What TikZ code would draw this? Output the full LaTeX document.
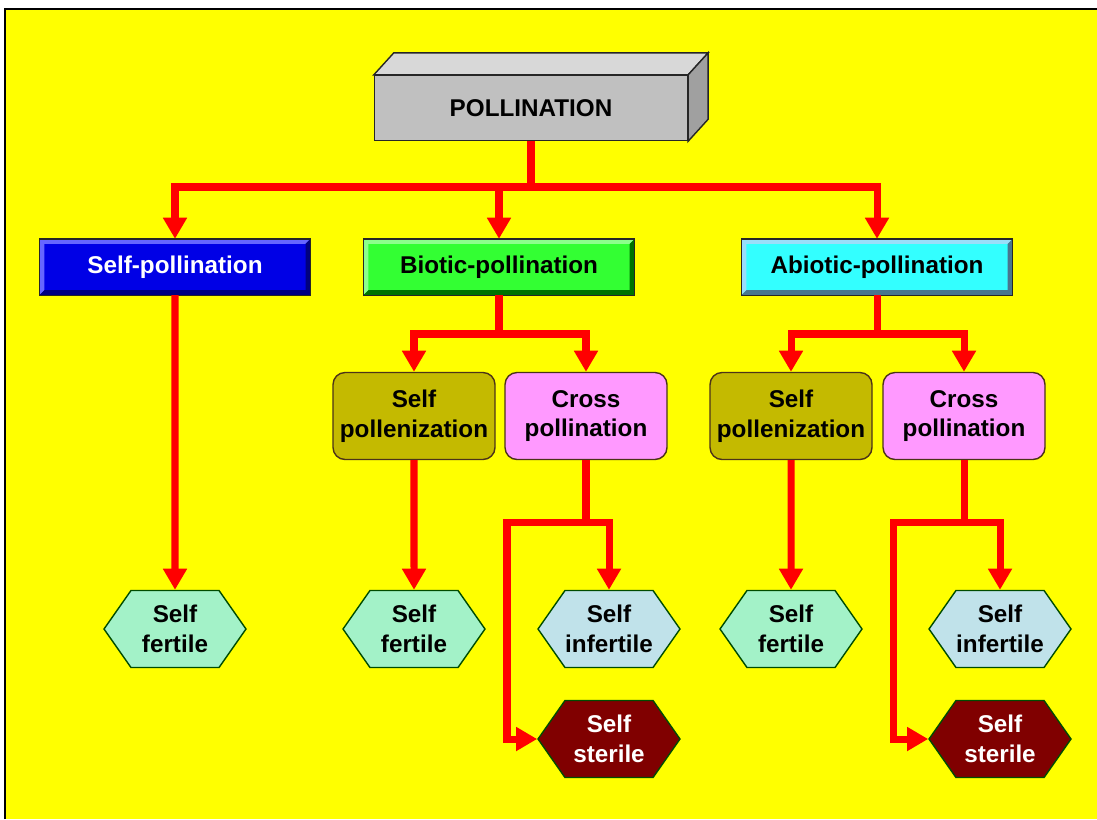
\documentclass[tikz,border=0pt]{standalone}
\usepackage{fontspec}
\setmainfont{Liberation Sans}
\usepackage{tikz}
\usetikzlibrary{arrows.meta, shapes.symbols}

\definecolor{bgyellow}{HTML}{FFFF00}
\definecolor{boxfront}{HTML}{C0C0C0}
\definecolor{boxtop}{HTML}{D8D8D8}
\definecolor{boxside}{HTML}{A0A0A0}
\definecolor{selfblue}{HTML}{0000E6}
\definecolor{bioticgreen}{HTML}{33FF33}
\definecolor{abioticcyan}{HTML}{33FFFF}
\definecolor{olive}{HTML}{C4BA00}
\definecolor{pinkbox}{HTML}{FF99FF}
\definecolor{mint}{HTML}{A3F2C8}
\definecolor{paleblue}{HTML}{C0E2EA}
\definecolor{darkred}{HTML}{800000}

\tikzset{
    label_font/.style={font=\fontsize{13.8}{17}\selectfont\bfseries},
    tab/.style={draw=black!85,
        line width=0.8pt,
        minimum width=5.4cm,
        minimum height=1.1cm,
        inner sep=0pt,
        label_font},
    group/.style={draw=black!60!brown,
        line width=0.8pt,
        rounded corners=0.24cm,
        minimum width=3.24cm,
        minimum height=1.74cm,
        inner sep=0pt,
        align=center,
        label_font},
    leaf/.style={draw=black!70!green,
        line width=0.8pt,
        shape=signal,
        signal to=east and west,
        signal pointer angle=110,
        minimum width=2.84cm,
        minimum height=1.54cm,
        inner sep=0pt,
        align=center,
        label_font},
    link/.style={red, line width=4pt},
    arrow/.style={link, -{Triangle[width=13pt,length=12pt]}},
}

% bevelled edge round a tab node
\newcommand{\bevel}[3]{
    \fill[#2] (#1.north west) -- (#1.north east) -- ([shift={(-5,5)}]#1.north east)
        -- ([shift={(5,5)}]#1.north west) -- ([shift={(5,-5)}]#1.south west) -- (#1.south west) -- cycle;
    \fill[#3] (#1.south east) -- (#1.north east) -- ([shift={(-5,5)}]#1.north east)
        -- ([shift={(-5,-5)}]#1.south east) -- ([shift={(5,-5)}]#1.south west) -- (#1.south west) -- cycle;
    \draw[black!85, line width=0.8pt] (#1.north west) rectangle (#1.south east);
}

\begin{document}
\begin{tikzpicture}[x=0.02cm, y=-0.02cm]

\useasboundingbox (0,0) rectangle (1097,819);
\fill[bgyellow] (5,9) rectangle (1097,819);
\draw[line width=1.2pt] (5,819) -- (5,9) -- (1097,9);

% top box
\node [fill=boxfront,
    draw=black!85,
    line width=0.8pt,
    minimum width=6.26cm,
    minimum height=1.3cm,
    label_font
] (pollination) at (531,108) {POLLINATION};

\filldraw[fill=boxtop, draw=black!85, line width=0.8pt] (pollination.north west) -- ++(20,-22)
    -- ([shift={(20,-22)}]pollination.north east) -- (pollination.north east) -- cycle;
\filldraw[fill=boxside, draw=black!85, line width=0.8pt] (pollination.north east) -- ++(20,-22)
    -- ([shift={(20,-22)}]pollination.south east) -- (pollination.south east) -- cycle;

% first level
\node [tab, fill=selfblue, text=white] (self_pol) at (175,267) {Self-pollination};
\bevel{self_pol}{blue!60!white}{blue!50!black}

\node [tab, fill=bioticgreen] (biotic_pol) at (499,267) {Biotic-pollination};
\bevel{biotic_pol}{green!45!white}{green!45!black}

\node [tab, fill=abioticcyan] (abiotic_pol) at (877,267) {Abiotic-pollination};
\bevel{abiotic_pol}{cyan!40!white}{cyan!50!black}

% second level
\node [group, fill=olive] (biotic_self) at (414,416) {Self\\pollenization};
\node [group, fill=pinkbox] (biotic_cross) at (586,416) {Cross\\pollination};
\node [group, fill=olive] (abiotic_self) at (791,416) {Self\\pollenization};
\node [group, fill=pinkbox] (abiotic_cross) at (964,416) {Cross\\pollination};

% leaves
\node [leaf, fill=mint] (fertile_0) at (175,629) {Self\\fertile};
\node [leaf, fill=mint] (fertile_1) at (414,629) {Self\\fertile};
\node [leaf, fill=paleblue] (infertile_1) at (609,629) {Self\\infertile};
\node [leaf, fill=darkred, text=white] (sterile_1) at (609,739) {Self\\sterile};
\node [leaf, fill=mint] (fertile_2) at (791,629) {Self\\fertile};
\node [leaf, fill=paleblue] (infertile_2) at (1000,629) {Self\\infertile};
\node [leaf, fill=darkred, text=white] (sterile_2) at (1000,739) {Self\\sterile};

% connectors
\coordinate (top_bus) at (531,187);
\coordinate (biotic_bus) at (499,334);
\coordinate (abiotic_bus) at (877,334);
\coordinate (cross_bus_1) at (586,522);
\coordinate (cross_left_1) at (507,522);
\coordinate (cross_bus_2) at (964,522);
\coordinate (cross_left_2) at (893,522);

\draw[link] (pollination) -- (top_bus);
\draw[arrow] (top_bus) -| (self_pol);
\draw[arrow] (top_bus) -| (biotic_pol);
\draw[arrow] (top_bus) -| (abiotic_pol);

\draw[arrow] (self_pol) -- (fertile_0);

\draw[link] (biotic_pol) -- (biotic_bus);
\draw[arrow] (biotic_bus) -| (biotic_self);
\draw[arrow] (biotic_bus) -| (biotic_cross);
\draw[arrow] (biotic_self) -- (fertile_1);
\draw[link] (biotic_cross) -- (cross_bus_1);
\draw[arrow] (cross_bus_1) -| (infertile_1);
\draw[arrow] (cross_bus_1) -- (cross_left_1) |- (sterile_1.west);

\draw[link] (abiotic_pol) -- (abiotic_bus);
\draw[arrow] (abiotic_bus) -| (abiotic_self);
\draw[arrow] (abiotic_bus) -| (abiotic_cross);
\draw[arrow] (abiotic_self) -- (fertile_2);
\draw[link] (abiotic_cross) -- (cross_bus_2);
\draw[arrow] (cross_bus_2) -| (infertile_2);
\draw[arrow] (cross_bus_2) -- (cross_left_2) |- (sterile_2.west);

\end{tikzpicture}
\end{document}
